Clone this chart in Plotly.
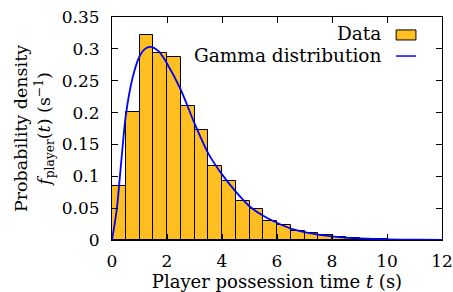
import plotly.graph_objects as go

# Histogram data (bin width 0.5 s)
bin_centers = [0.25, 0.75, 1.25, 1.75, 2.25, 2.75, 3.25, 3.75, 4.25, 4.75, 5.25, 5.75,
               6.25, 6.75, 7.25, 7.75, 8.25, 8.75, 9.25, 9.75, 10.25, 10.75, 11.25, 11.75]
density = [0.084, 0.201, 0.322, 0.294, 0.287, 0.210, 0.172, 0.116, 0.093, 0.062, 0.048, 0.030,
           0.0236, 0.0145, 0.0115, 0.0075, 0.0048, 0.0027, 0.0016, 0.0010, 0.0006, 0.0004, 0.0002, 0.0001]

# Gamma distribution curve
curve_t = [0, 0.17, 0.33, 0.5, 0.75, 1.0, 1.2, 1.4, 1.7, 2.0, 2.5, 3.0, 3.5, 4.0, 4.5,
           5.0, 5.5, 6.0, 6.5, 7.0, 7.5, 8.0, 8.5, 9.0, 10.0, 11.0, 12.0]
curve_f = [0, 0.047, 0.12, 0.195, 0.255, 0.288, 0.300, 0.303, 0.296, 0.277, 0.236, 0.183, 0.136,
           0.103, 0.076, 0.053, 0.038, 0.027, 0.018, 0.0125, 0.0085, 0.0058, 0.0038, 0.0025,
           0.0010, 0.0004, 0.0001]

x_ticks = [0, 2, 4, 6, 8, 10, 12]
y_ticks = [0, 0.05, 0.1, 0.15, 0.2, 0.25, 0.3, 0.35]
y_tick_text = ["0", "0.05", "0.1", "0.15", "0.2", "0.25", "0.3", "0.35"]

BAR_COLOR = "#FFBF20"
LINE_COLOR = "#0000FF"
FONT = "DejaVu Serif"
TICK_FS = 17
XTITLE_FS = 18
YTITLE_FS = 17.5
LEG_FS = 18.5

fig = go.Figure()
fig.add_trace(go.Bar(x=bin_centers, y=density, width=0.5, marker=dict(color=BAR_COLOR,
                     line=dict(color="black", width=1)), name="Data", showlegend=False))
fig.add_trace(go.Scatter(x=curve_t, y=curve_f, mode="lines",
                         line=dict(color=LINE_COLOR, width=1.8, shape="spline", smoothing=0.8),
                         name="Gamma distribution", showlegend=False))

fig.update_layout(
    width=453, height=292,
    margin=dict(l=112, r=11, t=17, b=52),
    plot_bgcolor="white", paper_bgcolor="white",
    font=dict(family=FONT, size=TICK_FS, color="black"),
    bargap=0,
    xaxis=dict(range=[0, 12], tickvals=x_ticks, ticks="inside", ticklen=6, tickcolor="black",
               mirror="allticks", showline=True, linecolor="black", linewidth=1, showgrid=False,
               zeroline=False, ticklabelstandoff=6, automargin=False,
               title=dict(text="Player possession time <i>t</i> (s)", standoff=6,
                          font=dict(size=XTITLE_FS))),
    yaxis=dict(range=[0, 0.35], tickvals=y_ticks, ticktext=y_tick_text, ticks="inside", ticklen=6,
               tickcolor="black", mirror="allticks", showline=True, linecolor="black", linewidth=1,
               showgrid=False, zeroline=False, ticklabelstandoff=8, automargin=False,
               title=dict(text="Probability density<br><i>f</i><sub>player</sub>(<i>t</i>) (s<sup>−1</sup>)",
                          standoff=6, font=dict(size=YTITLE_FS))),
)

# Legend drawn with symbols on the right (gnuplot style)
fig.add_annotation(xref="paper", yref="paper", x=0.82, y=0.928, xanchor="right", yanchor="middle",
                   text="Data", showarrow=False, font=dict(size=LEG_FS))
fig.add_annotation(xref="paper", yref="paper", x=0.82, y=0.828, xanchor="right", yanchor="middle",
                   text="Gamma distribution", showarrow=False, font=dict(size=LEG_FS))
fig.add_shape(type="rect", xref="paper", yref="paper", x0=0.861, x1=0.921, y0=0.897, y1=0.942,
              fillcolor=BAR_COLOR, line=dict(color="black", width=1))
fig.add_shape(type="line", xref="paper", yref="paper", x0=0.861, x1=0.921, y0=0.825, y1=0.825,
              line=dict(color=LINE_COLOR, width=1.5))

fig.write_html("out.html", config={"displayModeBar": False},
               post_script="document.body.style.margin='0';document.body.style.padding='0';")
